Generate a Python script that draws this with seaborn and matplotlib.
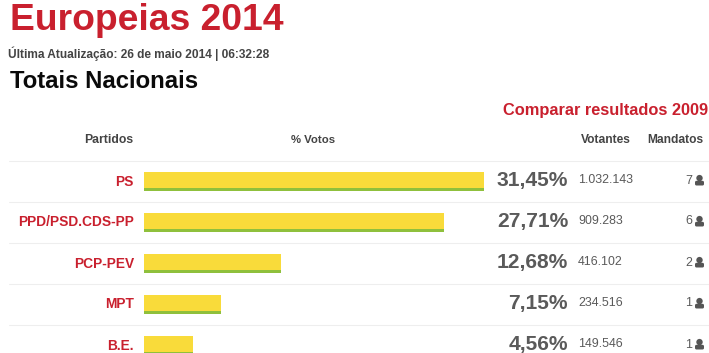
import matplotlib
matplotlib.use("Agg")
import matplotlib.pyplot as plt
import matplotlib.patches as mp
import pandas as pd
import seaborn as sns

partidos = ["PS", "PPD/PSD.CDS-PP", "PCP-PEV", "MPT", "B.E."]
votos = [31.45, 27.71, 12.68, 7.15, 4.56]
votos_lbl = ["31,45%", "27,71%", "12,68%", "7,15%", "4,56%"]
votantes = ["1.032.143", "909.283", "416.102", "234.516", "149.546"]
mandatos = [7, 6, 2, 1, 1]

W, H = 709, 353
RED = "#c9202e"
GREY = "#5a5a5a"
YELLOW = "#f9db3a"
GREEN = "#8fc03c"
LINE = "#eeeeee"
FONT = "Liberation Sans"
px = 0.72

sns.set_theme(style="white")
plt.rcParams["font.family"] = [FONT, "DejaVu Sans"]

fig = plt.figure(figsize=(W / 100, H / 100), dpi=100, facecolor="white")

page = fig.add_axes([0, 0, 1, 1])
page.set_xlim(0, W)
page.set_ylim(H, 0)
page.axis("off")


def T(x, y, s, size, color=GREY, ha="left", weight="normal", **kw):
    page.text(x, y, s, fontsize=size * px, color=color, ha=ha, va="center",
              fontweight=weight, **kw)


T(9.5, 20, "Europeias 2014", 37.3, RED, weight="bold")
T(8, 54, "Última Atualização: 26 de maio 2014 | 06:32:28", 11.9, "#444444", weight="bold")
T(9.5, 81, "Totais Nacionais", 23.9, "#0a0a0a", weight="bold")
T(708, 110, "Comparar resultados 2009", 16.4, RED, ha="right", weight="bold")
T(133, 140, "Partidos", 12.2, "#444444", ha="right", weight="bold")
T(313.5, 140, "% Votos", 11.4, "#444444", ha="center", weight="bold")
T(606, 140, "Votantes", 12, "#444444", ha="center", weight="bold")
T(675, 140, "Mandatos", 12, "#444444", ha="center", weight="bold")

ROW0, ROW = 160.5, 41
for i in range(5):
    page.plot([9, W], [ROW0 + i * ROW] * 2, color=LINE, lw=0.75)
    yc = ROW0 + (i + 0.5) * ROW - 0.5
    T(134, yc + 1, partidos[i], 13.8, RED, ha="right", weight="bold")
    T(568, yc, votos_lbl[i], 21, GREY, ha="right", weight="bold")
    T(578, yc - 0.5, votantes[i], 12.4, GREY)
    T(692.5, yc, str(mandatos[i]), 12.4, GREY, ha="right")
    page.add_patch(mp.Circle((699.5, yc - 2.4), 3.2, color="#555555", lw=0))
    page.add_patch(mp.FancyBboxPatch((695, yc + 0.3), 9, 4.7,
                                     boxstyle="round,pad=0,rounding_size=1.5",
                                     color="#555555", lw=0))

ax = fig.add_axes([144 / W, 0, 340 / W, (H - ROW0) / H])
ax.patch.set_alpha(0)
df = pd.DataFrame({"partido": partidos, "votos": votos})
sns.barplot(data=df, y="partido", x="votos", color=GREEN, saturation=1, width=19 / ROW,
            linewidth=0, ax=ax)
n = len(ax.patches)
sns.barplot(data=df, y="partido", x="votos", color=YELLOW, saturation=1, width=19 / ROW,
            linewidth=0, ax=ax)
for p in ax.patches[n:]:
    p.set_height(16.5 / ROW)
ax.set_xlim(0, 31.45)
ax.set_ylim((H - ROW0) / ROW - 0.5, -0.5)
ax.axis("off")

fig.savefig("out.png", dpi=100)
